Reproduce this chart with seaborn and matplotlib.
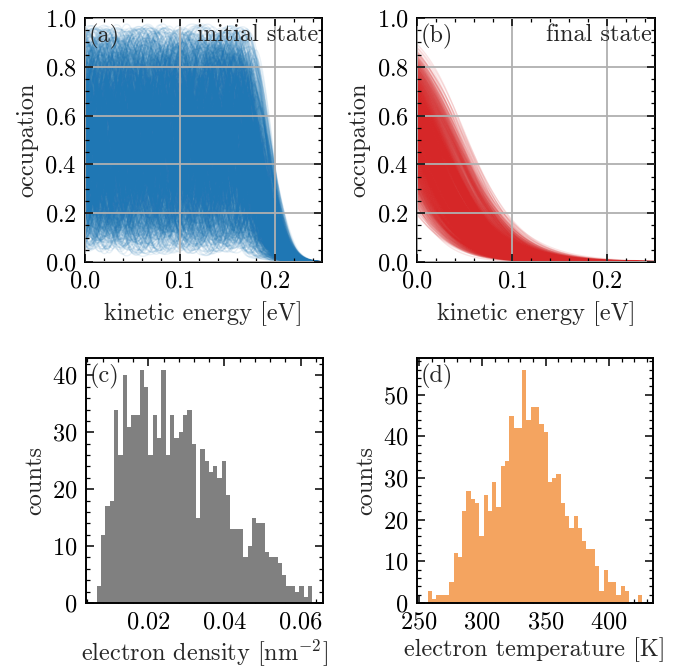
import numpy as np
import pandas as pd
import matplotlib
matplotlib.use("Agg")
import matplotlib.pyplot as plt
import seaborn as sns
from matplotlib.collections import LineCollection
from matplotlib.ticker import AutoMinorLocator, MultipleLocator, FormatStrFormatter

# ---------------- data ----------------
# (c) electron density histogram: 50 equal bins between these limits [nm^-2]
density_lo, density_hi = 0.00648, 0.06303
density_counts = [3, 12, 17, 18, 34, 26, 40, 31, 33, 33,
                  41, 38, 26, 33, 29, 41, 26, 33, 29, 30,
                  33, 34, 28, 15, 27, 25, 23, 24, 22, 25,
                  19, 13, 13, 13, 8, 10, 15, 14, 14, 9,
                  8, 8, 7, 5, 3, 3, 2, 3, 1, 3]
# (d) electron temperature histogram: 50 equal bins between these limits [K]
temperature_lo, temperature_hi = 257.0, 426.3
temperature_counts = [3, 1, 2, 2, 2, 5, 12, 11, 22, 27,
                      25, 24, 16, 26, 22, 29, 23, 33, 34, 45,
                      42, 42, 56, 44, 47, 47, 43, 41, 29, 30,
                      31, 24, 21, 18, 21, 18, 15, 13, 13, 9,
                      3, 8, 5, 5, 2, 4, 3, 0, 0, 2]
energy_max = 0.25          # eV, x range of panels (a), (b)
dos = 1.1                  # eV^-1 nm^-2, 2D density of states
kB = 8.617e-5              # eV/K

# ---------------- derived ensemble ----------------
d_edges = np.linspace(density_lo, density_hi, len(density_counts) + 1)
t_edges = np.linspace(temperature_lo, temperature_hi, len(temperature_counts) + 1)


def expand(edges, counts):
    out = []
    for k, c in enumerate(counts):
        if c:
            w = edges[k + 1] - edges[k]
            out.extend(edges[k] + (np.arange(c) + 0.5) / c * w)
    return np.array(out)


n_s = expand(d_edges, density_counts)
T_s = expand(t_edges, temperature_counts)
N = len(n_s)
T_s = T_s[(np.arange(N) * 389) % N]   # fixed pairing of the two samples

E = np.linspace(0.0, energy_max, 260)

# final state: Fermi-Dirac distributions with the ensemble's n and T
kT = kB * T_s
x = n_s / (dos * kT)
mu = kT * np.log(np.expm1(x))
final = 1.0 / (np.exp((E[None, :] - mu[:, None]) / kT[:, None]) + 1.0)

# initial state: fluctuating non-thermal occupations with a soft cutoff
idx = np.arange(1, N + 1)[:, None]
irr = [0.6180339887, 0.4142135624, 0.7320508076, 0.2360679775,
       0.6457513111, 0.1622776602, 0.3166247904, 0.8284271247,
       0.5677643628, 0.4721359550, 0.0827625303, 0.9282032303]
s = np.zeros((N, E.size))
for k in range(5):
    lam = 0.035 + 0.13 * np.mod(idx * irr[2 * k], 1.0)
    ph = 2 * np.pi * np.mod(idx * irr[2 * k + 1] + 0.37 * k, 1.0)
    s += np.sin(2 * np.pi * E / lam + ph)
g = 1.0 / (1.0 + np.exp(-0.75 * s))
ecut = 0.152 + 0.022 * np.mod(idx * irr[10], 1.0)
cut = np.exp(-(np.clip(E - ecut, 0, None) / 0.03) ** 2)
initial = g * cut

# ---------------- style ----------------
sns.set_theme(style="white")
FS = 17.5
plt.rcParams.update({
    "font.family": ["cmr10", "DejaVu Serif"],
    "mathtext.fontset": "cm",
    "axes.formatter.use_mathtext": True,
    "font.size": FS,
    "axes.labelsize": FS,
    "xtick.labelsize": FS,
    "ytick.labelsize": FS,
    "axes.linewidth": 1.4,
    "axes.edgecolor": "black",
    "axes.labelpad": 6,
    "xtick.direction": "in",
    "ytick.direction": "in",
    "xtick.top": True,
    "ytick.right": True,
    "xtick.bottom": True,
    "ytick.left": True,
    "xtick.major.size": 5.5,
    "ytick.major.size": 5.5,
    "xtick.minor.size": 3,
    "ytick.minor.size": 3,
    "xtick.major.width": 1.1,
    "ytick.major.width": 1.1,
    "xtick.minor.width": 0.9,
    "ytick.minor.width": 0.9,
    "xtick.color": "black",
    "ytick.color": "black",
    "xtick.major.pad": 6,
    "ytick.major.pad": 6,
})

fig = plt.figure(figsize=(6.81, 6.68), dpi=100)
W, H = 681, 668


def rect(l, r, t, b):
    return [l / W, 1 - b / H, (r - l) / W, (b - t) / H]


ax_a = fig.add_axes(rect(85, 322, 18, 262))
ax_b = fig.add_axes(rect(417, 655, 18, 262))
ax_c = fig.add_axes(rect(86, 323, 358, 603))
ax_d = fig.add_axes(rect(417, 653, 358, 603))


def style_ticks(ax):
    ax.xaxis.set_minor_locator(AutoMinorLocator(5))
    ax.tick_params(which="both", direction="in", top=True, right=True,
                   bottom=True, left=True)


for ax, curves, col, lab, al in [(ax_a, initial, "#1f77b4", "initial state", 0.1),
                                  (ax_b, final, "#d62728", "final state", 0.12)]:
    segs = [np.column_stack([E, c]) for c in curves]
    lc = LineCollection(segs, colors=col, alpha=al, linewidths=1.0, zorder=2)
    ax.add_collection(lc)
    ax.set_xlim(0, energy_max)
    ax.set_ylim(0, 1)
    ax.xaxis.set_major_locator(MultipleLocator(0.1))
    ax.yaxis.set_major_locator(MultipleLocator(0.2))
    ax.yaxis.set_minor_locator(AutoMinorLocator(4))
    ax.set_axisbelow(False)
    ax.grid(True, which="major", color="#b0b0b0", linewidth=1.3)
    ax.set_xlabel("kinetic energy [eV]")
    ax.set_ylabel("occupation", labelpad=4)
    ax.text(0.985, 0.975, lab, transform=ax.transAxes, ha="right", va="top")
    style_ticks(ax)

ax_a.text(0.015, 0.975, "(a)", transform=ax_a.transAxes, ha="left", va="top")
ax_b.text(0.015, 0.975, "(b)", transform=ax_b.transAxes, ha="left", va="top")

d_df = pd.DataFrame({"v": 0.5 * (d_edges[:-1] + d_edges[1:]),
                     "w": np.asarray(density_counts, float)})
t_df = pd.DataFrame({"v": 0.5 * (t_edges[:-1] + t_edges[1:]),
                     "w": np.asarray(temperature_counts, float)})
sns.histplot(data=d_df, x="v", weights="w", bins=len(density_counts),
             binrange=(density_lo, density_hi), ax=ax_c,
             color="#808080", alpha=1.0, linewidth=0)
sns.histplot(data=t_df, x="v", weights="w", bins=len(temperature_counts),
             binrange=(temperature_lo, temperature_hi), ax=ax_d,
             color="#f4a460", alpha=1.0, linewidth=0)

ax_c.set_xlim(0.00365, 0.06586)
ax_c.set_ylim(0, 43.05)
ax_c.xaxis.set_major_locator(MultipleLocator(0.02))
ax_c.yaxis.set_major_locator(MultipleLocator(10))
ax_c.yaxis.set_minor_locator(AutoMinorLocator(5))
ax_c.xaxis.set_major_formatter(FormatStrFormatter("%.2f"))
ax_c.set_xlabel(r"electron density [nm$^{-2}$]", labelpad=3)
ax_c.set_ylabel("counts", labelpad=4)
ax_c.text(0.015, 0.975, "(c)", transform=ax_c.transAxes, ha="left", va="top")

ax_d.set_xlim(248.5, 434.8)
ax_d.set_ylim(0, 58.8)
ax_d.xaxis.set_major_locator(MultipleLocator(50))
ax_d.yaxis.set_major_locator(MultipleLocator(10))
ax_d.yaxis.set_minor_locator(AutoMinorLocator(5))
ax_d.set_xlabel("electron temperature [K]", labelpad=3)
ax_d.set_ylabel("counts", labelpad=4)
ax_d.text(0.015, 0.975, "(d)", transform=ax_d.transAxes, ha="left", va="top")

for ax in (ax_c, ax_d):
    style_ticks(ax)
    for s_ in ax.spines.values():
        s_.set_visible(True)

fig.savefig("out.png", dpi=100)
